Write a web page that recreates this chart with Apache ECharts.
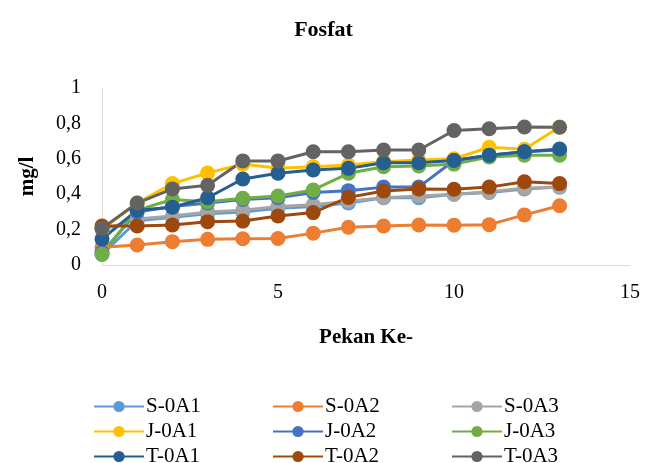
<!DOCTYPE html>
<html>
<head>
<meta charset="utf-8">
<script src="https://cdn.jsdelivr.net/npm/echarts@6/dist/echarts.min.js"></script>
<style>
  html, body { margin: 0; padding: 0; background: #fff; }
  #chart { width: 647px; height: 463px; }
</style>
</head>
<body>
<div id="chart"></div>
<script>
// pekan ke- (minggu)
const weeks = [0, 1, 2, 3, 4, 5, 6, 7, 8, 9, 10, 11, 12, 13]

const seriesNames = ['S-0A1', 'S-0A2', 'S-0A3', 'J-0A1', 'J-0A2', 'J-0A3', 'T-0A1', 'T-0A2', 'T-0A3']
const seriesColors = ['#5B9BD5', '#ED7D31', '#A5A5A5', '#FFC000', '#4472C4', '#70AD47', '#255E91', '#9E480E', '#636363']

// nilai fosfat (mg/l)
const s0a1 = [0.06, 0.25, 0.27, 0.29, 0.30, 0.32, 0.33, 0.35, 0.38, 0.38, 0.40, 0.41, 0.43, 0.44]
const s0a2 = [0.10, 0.113, 0.132, 0.145, 0.148, 0.15, 0.18, 0.213, 0.22, 0.226, 0.225, 0.228, 0.283, 0.335]
const s0a3 = [0.20, 0.26, 0.277, 0.30, 0.31, 0.33, 0.34, 0.36, 0.38, 0.39, 0.40, 0.414, 0.433, 0.44]
const j0a1 = [0.20, 0.35, 0.46, 0.52, 0.57, 0.546, 0.555, 0.565, 0.584, 0.593, 0.60, 0.665, 0.654, 0.78]
const j0a2 = [0.07, 0.30, 0.33, 0.35, 0.37, 0.38, 0.41, 0.42, 0.44, 0.44, 0.59, 0.62, 0.64, 0.65]
const j0a3 = [0.062, 0.31, 0.37, 0.358, 0.377, 0.39, 0.424, 0.518, 0.555, 0.56, 0.57, 0.61, 0.62, 0.62]
const t0a1 = [0.147, 0.31, 0.326, 0.38, 0.486, 0.518, 0.537, 0.546, 0.578, 0.578, 0.59, 0.62, 0.64, 0.655]
const t0a2 = [0.22, 0.22, 0.226, 0.245, 0.248, 0.277, 0.296, 0.382, 0.418, 0.43, 0.428, 0.44, 0.47, 0.46]
const t0a3 = [0.207, 0.35, 0.43, 0.45, 0.588, 0.588, 0.64, 0.64, 0.65, 0.65, 0.76, 0.77, 0.78, 0.778]

const allValues = [s0a1, s0a2, s0a3, j0a1, j0a2, j0a3, t0a1, t0a2, t0a3]

const yTickLabels = { 0: '0', 0.2: '0,2', 0.4: '0,4', 0.6: '0,6', 0.8: '0,8', 1: '1' }

const serif = '"Liberation Serif", "Times New Roman", serif'

const chart = echarts.init(document.getElementById('chart'))

// legenda 3 kolom x 3 baris, satu legend per item
const legendCols = [93, 272, 451]
const legendRows = [396, 421, 446]
const legends = seriesNames.map((name, i) => ({
  left: legendCols[i % 3],
  top: legendRows[Math.floor(i / 3)],
  padding: 0,
  itemWidth: 50,
  itemHeight: 14,
  itemGap: 0,
  data: [name],
  textStyle: { fontFamily: serif, fontSize: 21, color: '#000', padding: [0, 0, 0, -3] }
}))

const option = {
  animation: false,
  title: {
    text: 'Fosfat',
    left: 'center',
    top: 14,
    textStyle: { fontFamily: serif, fontSize: 22, fontWeight: 'bold', color: '#000' }
  },
  legend: legends,
  grid: { left: 102, right: 17, top: 88, bottom: 198 },
  xAxis: {
    type: 'value',
    min: 0,
    max: 15,
    interval: 5,
    name: 'Pekan Ke-',
    nameLocation: 'middle',
    nameGap: 62,
    nameTextStyle: { fontFamily: serif, fontSize: 21, fontWeight: 'bold', color: '#000' },
    axisLine: { show: true, lineStyle: { color: '#D9D9D9', width: 1 } },
    axisTick: { show: false },
    splitLine: { show: false },
    axisLabel: { fontFamily: serif, fontSize: 20, color: '#000', margin: 18 }
  },
  yAxis: {
    type: 'value',
    min: 0,
    max: 1,
    interval: 0.2,
    name: 'mg/l',
    nameLocation: 'middle',
    nameGap: 64,
    nameTextStyle: { fontFamily: serif, fontSize: 21, fontWeight: 'bold', color: '#000' },
    axisLine: { show: true, lineStyle: { color: '#D9D9D9', width: 1 } },
    axisTick: { show: false },
    splitLine: { show: false },
    axisLabel: {
      fontFamily: serif,
      fontSize: 20,
      color: '#000',
      margin: 21,
      formatter: v => yTickLabels[Math.round(v * 10) / 10] ?? String(v).replace('.', ',')
    }
  },
  series: seriesNames.map((name, i) => ({
    name: name,
    type: 'line',
    data: weeks.map((w, k) => [w, allValues[i][k]]),
    symbol: 'circle',
    symbolSize: 15,
    color: seriesColors[i],
    lineStyle: { width: 3, color: seriesColors[i] },
    itemStyle: { color: seriesColors[i] }
  }))
}

chart.setOption(option)
</script>
</body>
</html>
